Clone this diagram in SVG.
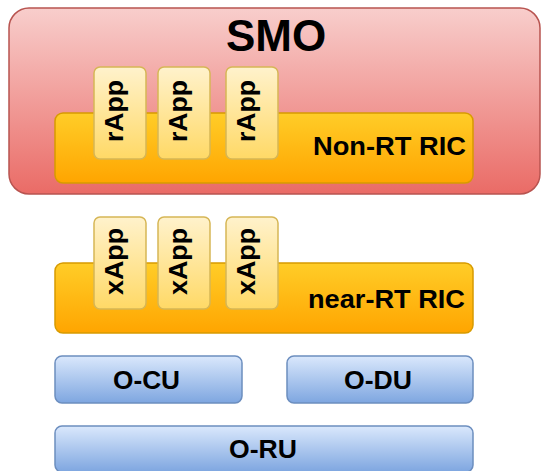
<svg xmlns="http://www.w3.org/2000/svg" width="541" height="471" viewBox="0 0 541 471">
<defs>
<linearGradient id="gRed" x1="0" y1="0" x2="0" y2="1"><stop offset="0" stop-color="#f8cecc"/><stop offset="1" stop-color="#ea6b66"/></linearGradient>
<linearGradient id="gOrange" x1="0" y1="0" x2="0" y2="1"><stop offset="0" stop-color="#ffcd28"/><stop offset="1" stop-color="#ffa500"/></linearGradient>
<linearGradient id="gYellow" x1="0" y1="0" x2="0" y2="1"><stop offset="0" stop-color="#fff2cc"/><stop offset="1" stop-color="#ffd966"/></linearGradient>
<linearGradient id="gBlue" x1="0" y1="0" x2="0" y2="1"><stop offset="0" stop-color="#dae8fc"/><stop offset="1" stop-color="#7ea6e0"/></linearGradient>
</defs>
<style>
text{font-family:"Liberation Sans",Arial,sans-serif;font-weight:bold;fill:#000}
.smo{fill:url(#gRed);stroke:#b85450;stroke-width:1.5}
.ric{fill:url(#gOrange);stroke:#d79b00;stroke-width:1.5}
.app{fill:url(#gYellow);stroke:#d6b656;stroke-width:1.5}
.ran{fill:url(#gBlue);stroke:#6c8ebf;stroke-width:1.5}
.lbl{font-size:26px}
.app-t{font-size:26px;text-anchor:middle}
</style>
<g id="smo">
<rect class="smo" x="9" y="8" width="531" height="186" rx="20" ry="20"/>
<text x="276" y="51" font-size="44" text-anchor="middle">SMO</text>
</g>
<g id="non-rt-ric">
<rect class="ric" x="55" y="113" width="418" height="70" rx="8" ry="8"/>
<text class="lbl" x="313" y="154.5" textLength="153" lengthAdjust="spacingAndGlyphs">Non-RT RIC</text>
</g>
<g id="rapp1">
<rect class="app" x="94" y="67" width="52" height="92" rx="6" ry="6"/>
<text class="app-t" transform="translate(123,111) rotate(-90)" textLength="62" lengthAdjust="spacingAndGlyphs">rApp</text>
</g>
<g id="rapp2">
<rect class="app" x="158" y="67" width="52" height="92" rx="6" ry="6"/>
<text class="app-t" transform="translate(187,111) rotate(-90)" textLength="62" lengthAdjust="spacingAndGlyphs">rApp</text>
</g>
<g id="rapp3">
<rect class="app" x="226" y="67" width="52" height="92" rx="6" ry="6"/>
<text class="app-t" transform="translate(255,111) rotate(-90)" textLength="62" lengthAdjust="spacingAndGlyphs">rApp</text>
</g>
<g id="near-rt-ric">
<rect class="ric" x="55" y="263" width="418" height="70" rx="8" ry="8"/>
<text class="lbl" x="308" y="307.5" textLength="157" lengthAdjust="spacingAndGlyphs">near-RT RIC</text>
</g>
<g id="xapp1">
<rect class="app" x="94" y="217" width="52" height="92" rx="6" ry="6"/>
<text class="app-t" transform="translate(123,261.5) rotate(-90)" textLength="67" lengthAdjust="spacingAndGlyphs">xApp</text>
</g>
<g id="xapp2">
<rect class="app" x="158" y="217" width="52" height="92" rx="6" ry="6"/>
<text class="app-t" transform="translate(187,261.5) rotate(-90)" textLength="67" lengthAdjust="spacingAndGlyphs">xApp</text>
</g>
<g id="xapp3">
<rect class="app" x="226" y="217" width="52" height="92" rx="6" ry="6"/>
<text class="app-t" transform="translate(255,261.5) rotate(-90)" textLength="67" lengthAdjust="spacingAndGlyphs">xApp</text>
</g>
<g id="o-cu">
<rect class="ran" x="55" y="356" width="187" height="47" rx="7" ry="7"/>
<text class="lbl" x="113" y="388.5" textLength="67" lengthAdjust="spacingAndGlyphs">O-CU</text>
</g>
<g id="o-du">
<rect class="ran" x="287" y="356" width="186" height="47" rx="7" ry="7"/>
<text class="lbl" x="344" y="388.5" textLength="68" lengthAdjust="spacingAndGlyphs">O-DU</text>
</g>
<g id="o-ru">
<rect class="ran" x="55" y="426" width="418" height="46" rx="7" ry="7"/>
<text class="lbl" x="229" y="457.5" textLength="68" lengthAdjust="spacingAndGlyphs">O-RU</text>
</g>
<g id="connectors"/>
</svg>
